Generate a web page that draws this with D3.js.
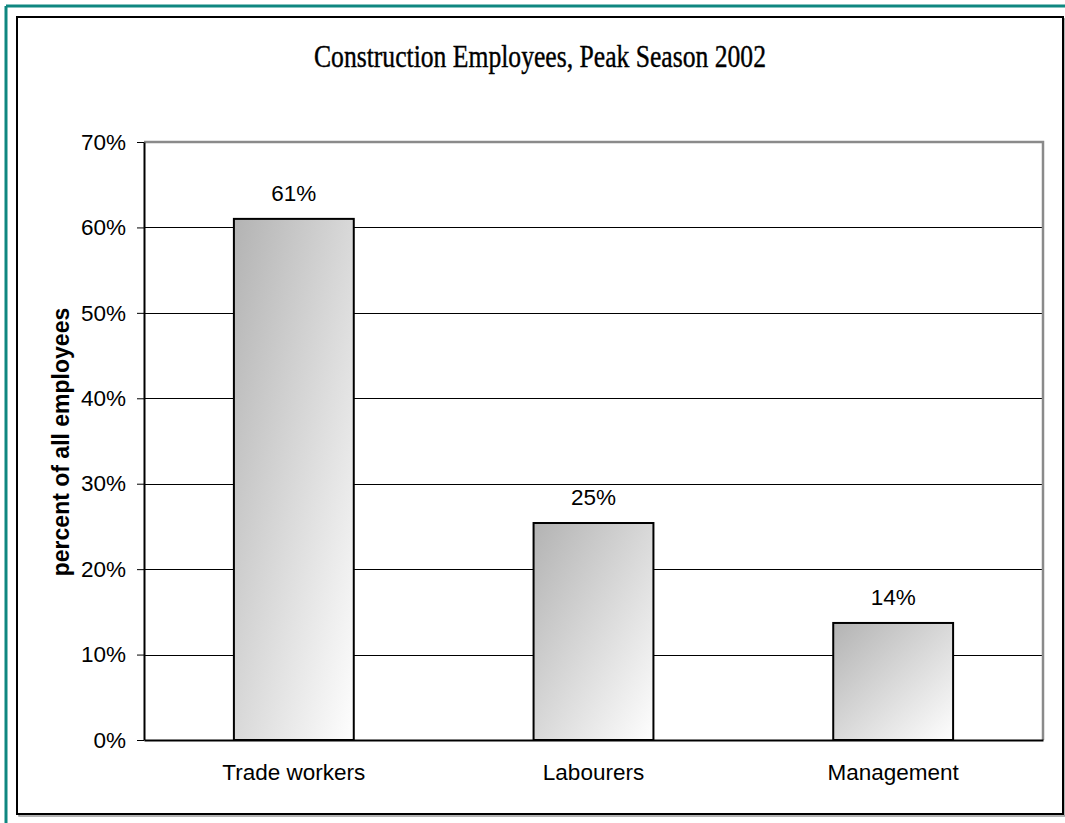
<!DOCTYPE html>
<html>
<head>
<meta charset="utf-8">
<script src="https://cdn.jsdelivr.net/npm/d3@7/dist/d3.min.js"></script>
<style>
  html, body { margin: 0; padding: 0; background: #fff; }
  svg { display: block; }
</style>
</head>
<body>
<svg id="chart" width="1065" height="823"></svg>
<script>
// Share of construction employees by occupation group, peak season 2002
const categories = ["Trade workers", "Labourers", "Management"];
const shares = [0.61, 0.254, 0.137];
const yTicks = [0, 0.1, 0.2, 0.3, 0.4, 0.5, 0.6, 0.7];
const titleText = "Construction Employees, Peak Season 2002";
const yAxisTitle = "percent of all employees";

const svg = d3.select("#chart");
const W = 1065, H = 823;
const plot = { left: 144, right: 1043, top: 142, bottom: 740 };
const sans = "Liberation Sans, Arial, sans-serif";

// Outer teal frame (top and left edges)
svg.append("line").attr("x1", 6).attr("y1", 6).attr("x2", W).attr("y2", 6)
  .attr("stroke", "#0f8780").attr("stroke-width", 3);
svg.append("line").attr("x1", 6).attr("y1", 6).attr("x2", 6).attr("y2", H)
  .attr("stroke", "#0f8780").attr("stroke-width", 3);

// Chart frame with a soft shadow on right/bottom
svg.append("rect").attr("x", 19).attr("y", 19).attr("width", 1046).attr("height", 797)
  .attr("fill", "none").attr("stroke", "#999").attr("stroke-width", 1.5);
svg.append("rect").attr("x", 17).attr("y", 17).attr("width", 1046).attr("height", 797)
  .attr("fill", "#fff").attr("stroke", "#000").attr("stroke-width", 2);

// Bar gradient: grey in the top-left corner fading to white bottom-right
const defs = svg.append("defs");
const grad = defs.append("linearGradient").attr("id", "barFill")
  .attr("x1", 0).attr("y1", 0).attr("x2", 1).attr("y2", 1);
grad.append("stop").attr("offset", "0%").attr("stop-color", "#b3b3b3");
grad.append("stop").attr("offset", "100%").attr("stop-color", "#fefefe");

const x = d3.scaleBand().domain(categories)
  .range([plot.left, plot.right]).paddingInner(0.6).paddingOuter(0.3);
const y = d3.scaleLinear().domain([0, 0.7]).range([plot.bottom, plot.top]);
const pct = d3.format(".0%");

// Horizontal gridlines
svg.append("g").selectAll("line")
  .data(yTicks.filter(t => t > 0 && t < 0.7))
  .join("line")
  .attr("x1", plot.left).attr("x2", plot.right)
  .attr("y1", d => Math.round(y(d)) + 0.5).attr("y2", d => Math.round(y(d)) + 0.5)
  .attr("stroke", "#000").attr("stroke-width", 1);

// Plot border (top and right in grey)
svg.append("path")
  .attr("d", `M${plot.left},${plot.top}H${plot.right}V${plot.bottom}`)
  .attr("fill", "none").attr("stroke", "#8a8a8a").attr("stroke-width", 2.5);

// Bars
svg.append("g").selectAll("rect")
  .data(categories.map((c, i) => ({ c, v: shares[i] })))
  .join("rect")
  .attr("x", d => x(d.c))
  .attr("y", d => y(d.v))
  .attr("width", x.bandwidth())
  .attr("height", d => y(0) - y(d.v))
  .attr("fill", "url(#barFill)")
  .attr("stroke", "#000").attr("stroke-width", 2);

// Value labels above the bars
svg.append("g").selectAll("text")
  .data(categories.map((c, i) => ({ c, v: shares[i] })))
  .join("text")
  .attr("x", d => x(d.c) + x.bandwidth() / 2)
  .attr("y", d => y(d.v) - 18)
  .attr("text-anchor", "middle")
  .attr("font-family", sans)
  .attr("font-size", 22.5)
  .attr("fill", "#000")
  .text(d => pct(d.v));

// Y axis
const yAxis = svg.append("g")
  .attr("transform", `translate(${plot.left},0)`)
  .call(d3.axisLeft(y).tickValues(yTicks).tickFormat(pct)
    .tickSize(7).tickSizeOuter(0).tickPadding(11));
yAxis.select(".domain").attr("stroke", "#000").attr("stroke-width", 2);
yAxis.selectAll(".tick line").attr("stroke", "#000").attr("stroke-width", 1);
yAxis.selectAll(".tick text")
  .attr("font-family", sans)
  .attr("font-size", 22.5).attr("fill", "#000");

// X axis
const xAxis = svg.append("g")
  .attr("transform", `translate(0,${plot.bottom})`)
  .call(d3.axisBottom(x).tickSize(0).tickSizeOuter(0));
xAxis.select(".domain").attr("stroke", "#000").attr("stroke-width", 2);
xAxis.selectAll(".tick text")
  .attr("y", 40).attr("dy", 0)
  .attr("font-family", sans)
  .attr("font-size", 22.5).attr("fill", "#000");

// Y axis title
svg.append("text")
  .attr("transform", `translate(69,${(plot.top + plot.bottom) / 2 + 1}) rotate(-90)`)
  .attr("text-anchor", "middle")
  .attr("font-family", sans)
  .attr("font-weight", "bold")
  .attr("font-size", 23)
  .attr("fill", "#000")
  .text(yAxisTitle);

// Chart title
svg.append("text")
  .attr("x", 540).attr("y", 67)
  .attr("text-anchor", "middle")
  .attr("font-family", "Liberation Serif, Times New Roman, serif")
  .attr("font-size", 32)
  .attr("textLength", 452).attr("lengthAdjust", "spacingAndGlyphs")
  .attr("fill", "#000")
  .attr("stroke", "#000").attr("stroke-width", 0.4)
  .text(titleText);
</script>
</body>
</html>
